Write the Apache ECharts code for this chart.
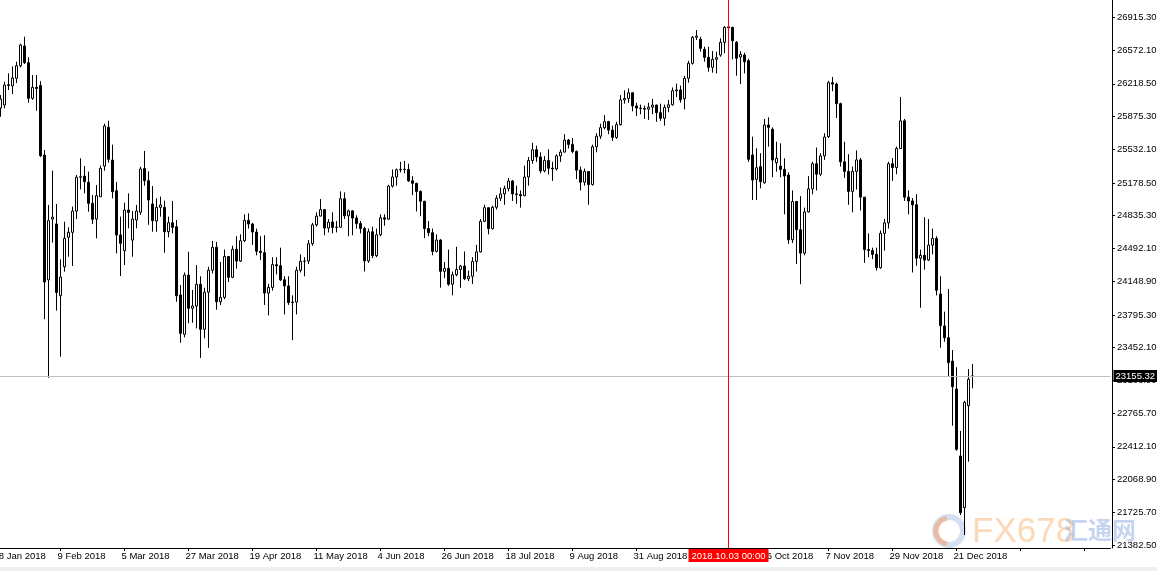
<!DOCTYPE html>
<html>
<head>
<meta charset="utf-8">
<script src="https://cdn.jsdelivr.net/npm/echarts@6/dist/echarts.min.js"></script>
<style>
html,body{margin:0;padding:0;background:#fff;}
#chart{width:1157px;height:571px;}
</style>
</head>
<body>
<div id="chart"></div>
<script>
// ---- data: daily candles [open, high, low, close] ----
const jan = [
[25990,26150,25900,26010],[25965,26100,25873,26058],[25996,26240,25961,26205],[26200,26328,26153,26210],
[26196,26400,26110,26279],[26276,26450,26226,26408],[26408,26640,26390,26625],[26614,26712,26426,26440],
[26440,26496,26020,26066],[26066,26310,26050,26181]];
const feb = [
[26181,26310,25936,26170],[26200,26247,25450,25465],[25471,25524,23750,24140],[24162,24948,23136,24784],
[24800,25307,24554,24820],[24749,24958,23840,24030],[23996,24378,23357,24192],[24300,24772,24248,24598],
[24609,24713,24405,24661],[24661,24930,24308,24884],[24884,25262,24800,25238],[25238,25437,25112,25245],
[25251,25356,25070,25192],[25185,25297,24877,24965],[24965,25052,24748,24797],[24800,25157,24598,25045],
[25034,25360,25030,25332],[25356,25800,25307,25776],[25762,25831,25391,25426],[25419,25580,25017,25087]];
const mar = [
[25097,25189,24441,24633],[24633,24825,24203,24546],[24468,24971,24318,24895],[24895,25070,24703,24870],
[24580,24884,24405,24800],[24790,24948,24703,24884],[24871,25349,24842,25325],[25330,25514,25150,25202],
[25202,25300,24740,25000],[24958,25146,24667,24783],[24780,25017,24667,24923],[24923,25035,24825,24948],
[24923,24993,24447,24667],[24667,24825,24609,24762],[24762,24990,24650,24713],[24720,24790,23933,23996],
[24004,24108,23503,23602],[23591,24240,23560,24213],[24213,24458,23707,23864],[23864,24056,23713,23888],
[23888,24318,23654,24116]];
const apr = [
[24116,24200,23344,23644],[23644,24080,23550,24033],[24033,24300,23450,24264],[24264,24570,24230,24505],
[24505,24560,23850,23933],[23933,24350,23900,23979],[23979,24480,23960,24408],[24408,24410,24140,24189],
[24189,24520,24180,24483],[24483,24620,24280,24360],[24360,24640,24350,24573],[24573,24850,24560,24786],
[24786,24860,24700,24748],[24748,24760,24530,24664],[24664,24700,24420,24463],[24463,24620,24370,24448],
[24448,24630,23900,24024],[24024,24120,23790,24083],[24083,24400,24050,24322],[24322,24400,24220,24311],
[24311,24500,24150,24163]];
const may = [
[24163,24200,23800,24099],[24099,24200,23900,23925],[23925,24000,23530,23930],[23930,24300,23800,24263],
[24263,24430,24240,24357],[24357,24400,24200,24360],[24360,24580,24330,24542],[24542,24760,24520,24739],
[24739,24870,24720,24831],[24831,25010,24830,24899],[24899,24900,24630,24706],[24706,24800,24660,24768],
[24768,24870,24650,24713],[24713,24780,24660,24715],[24715,25090,24710,25013],[25013,25080,24800,24834],
[24834,24900,24620,24886],[24886,24890,24630,24811],[24811,24840,24700,24753],[24753,24780,24650,24700],
[24700,24720,24250,24361],[24361,24700,24340,24667],[24667,24720,24390,24416]];
const jun = [
[24416,24700,24400,24635],[24635,24850,24620,24813],[24813,24850,24730,24799],[24799,25160,24790,25146],
[25146,25320,25130,25241],[25241,25330,25150,25317],[25317,25400,25290,25322],[25322,25410,25280,25320],
[25320,25380,25190,25201],[25201,25250,25050,25175],[25175,25180,24880,25090],[25090,25100,24830,24987],
[24987,24990,24600,24700],[24700,24780,24620,24657],[24657,24700,24420,24461],[24461,24640,24450,24580],
[24580,24590,24080,24252],[24252,24350,24180,24283],[24283,24480,24100,24117],[24117,24250,24000,24216],
[24216,24510,24200,24271]];
const jul = [
[24271,24320,24080,24307],[24307,24460,24160,24174],[24174,24260,24150,24200],[24200,24400,24120,24356],
[24356,24530,24250,24456],[24456,24800,24450,24776],[24776,24950,24770,24919],[24919,24920,24640,24700],
[24700,24940,24690,24924],[24924,25050,24900,25019],[25019,25130,24990,25064],[25064,25150,24950,25119],
[25119,25230,25090,25199],[25199,25210,24990,25064],[25064,25150,24960,25058],[25058,25100,24920,25044],
[25044,25360,25040,25241],[25241,25450,25150,25414],[25414,25600,25380,25527],[25527,25570,25400,25451],
[25451,25500,25280,25306],[25306,25460,25290,25415]];
const aug = [
[25415,25530,25270,25333],[25333,25400,25200,25326],[25326,25480,25310,25462],[25462,25530,25400,25502],
[25502,25690,25500,25628],[25628,25640,25540,25583],[25583,25650,25490,25509],[25509,25520,25220,25313],
[25313,25350,25100,25187],[25187,25330,25150,25299],[25299,25300,24950,25162],[25162,25580,25150,25558],
[25558,25700,25500,25669],[25669,25800,25640,25758],[25758,25890,25740,25822],[25822,25830,25690,25733],
[25733,25780,25620,25656],[25656,25820,25640,25790],[25790,26100,25780,26049],[26049,26150,26010,26064],
[26064,26170,26020,26124],[26124,26130,25930,25986],[25986,26020,25880,25964]];
const sep = [
[25964,26000,25900,25960],[25960,25990,25850,25952],[25952,26020,25840,25974],[25974,26060,25900,25995],
[25995,26000,25820,25916],[25916,26010,25830,25857],[25857,26000,25780,25971],[25971,26050,25920,25998],
[25998,26180,25990,26145],[26145,26220,26080,26154],[26154,26200,26020,26050],[26062,26300,25950,26276],
[26276,26460,26230,26433],[26433,26720,26420,26706],[26706,26782,26677,26719],[26685,26712,26555,26590],
[26580,26608,26450,26496],[26496,26607,26345,26391],[26391,26562,26335,26475],[26475,26555,26328,26492]];
const oct = [
[26520,26695,26502,26653],[26653,26824,26538,26810],[26815,26840,26740,26805],[26810,26817,26475,26670],
[26653,26667,26303,26486],[26500,26560,26216,26527],[26520,26544,26328,26450],[26460,26480,25400,25427],
[25472,25664,25000,25209],[25217,25542,25000,25338],[25349,25490,25122,25192],[25181,25850,25170,25786],
[25786,25867,25559,25762],[25741,25762,25238,25419],[25391,25611,25297,25437],[25356,25594,25238,25321],
[25321,25437,24850,25251],[25262,25290,24540,24583],[24583,25100,24550,24984],[24984,24990,24330,24688],
[24688,25040,24117,24443],[24443,24920,24420,24875],[24875,25250,24870,25116]];
const nov = [
[25116,25400,25060,25380],[25380,25550,25100,25270],[25270,25490,25250,25462],[25462,25700,25420,25660],
[25664,26250,25650,26230],[26230,26290,26140,26215],[26215,26230,25860,26010],[26010,26020,25350,25400],
[25400,25610,25230,25300],[25300,25480,24950,25090],[25090,25350,24870,25300],[25300,25520,25110,25420],
[25420,25440,24890,25030],[25030,25030,24340,24480],[24480,24650,24400,24470],[24470,24500,24380,24430],
[24430,24500,24260,24290],[24290,24680,24280,24650],[24650,24800,24470,24760],[24760,25400,24700,25380],
[25380,25440,25200,25340],[25340,25560,25270,25540]];
const dec = [
[25540,26080,25540,25830],[25830,25850,24990,25030],[25030,25100,24850,24990],[24990,25020,24240,24950],
[24950,25060,24310,24390],[24390,24480,23870,24420],[24420,24820,24270,24370],[24370,24800,24360,24527],
[24527,24700,24430,24597],[24597,24620,24000,24054],[24014,24200,23451,23682],[23679,23829,23514,23556],
[23556,24067,23154,23294],[23311,23427,22633,23042],[23018,23246,22371,22386],[22316,22578,21697,21722],
[21774,22895,21487,22878],[22843,23228,22256,23120],[23150,23280,23025,23155.32]];

// ---- axis values ----
const yTickValues = [26915.30,26572.10,26218.50,25875.30,25532.10,25178.50,24835.30,24492.10,24148.90,
  23795.30,23452.10,23108.90,22765.70,22412.10,22068.90,21725.70,21382.50];
const yMin = 21351, yMax = 27097;
const firstDay = '2018-01-18', lastDay = '2018-12-28';
const closedDays = ['2018-03-30','2018-12-25'];
const monthNames = ['Jan','Feb','Mar','Apr','May','Jun','Jul','Aug','Sep','Oct','Nov','Dec'];
const crosshairDate = '2018-10-03';
const crosshairText = '2018.10.03 00:00';
const lastPrice = 23155.32;
const totalSlots = 279; // bars + empty right margin

// trading calendar (weekdays minus closed days)
function tradingDays(a, b) {
  const out = [];
  const d = new Date(a + 'T00:00:00Z'), e = new Date(b + 'T00:00:00Z');
  while (d <= e) {
    const wd = d.getUTCDay();
    const s = d.toISOString().slice(0, 10);
    if (wd !== 0 && wd !== 6 && closedDays.indexOf(s) < 0) out.push(s);
    d.setUTCDate(d.getUTCDate() + 1);
  }
  return out;
}
const dates = tradingDays(firstDay, lastDay);
const rows = [].concat(jan, feb, mar, apr, may, jun, jul, aug, sep, oct, nov, dec);
if (rows.length !== dates.length) console.warn('length mismatch', rows.length, dates.length);
const candleData = rows.map(r => [r[0], r[3], r[2], r[1]]); // [open, close, low, high]
const categories = dates.slice();
for (let i = categories.length; i < totalSlots; i++) categories.push('pad' + i);

function fmtDate(v) {
  if (!/^\d{4}-\d{2}-\d{2}$/.test(v)) return '';
  const p = v.split('-');
  return (+p[2]) + ' ' + monthNames[+p[1] - 1] + ' ' + p[0];
}

const FONT = '"Liberation Sans", Arial, sans-serif';
const chart = echarts.init(document.getElementById('chart'), null, {renderer: 'canvas'});
chart.setOption({
  backgroundColor: '#ffffff',
  animation: false,
  grid: {left: -5.5, right: 46.5, top: 0, bottom: 23, containLabel: false, outerBoundsMode: 'none'},
  xAxis: {
    type: 'category',
    data: categories,
    boundaryGap: true,
    axisPointer: {show: false},
    axisLine: {show: true, lineStyle: {color: '#000', width: 1}},
    axisTick: {show: true, interval: 15, alignWithLabel: true, length: 3, lineStyle: {color: '#000'}},
    axisLabel: {show: true, interval: 15, align: 'left', margin: 3, color: '#000', fontSize: 9.5,
      padding: [0, 0, 0, -3], fontFamily: FONT, formatter: fmtDate},
    splitLine: {show: false}
  },
  yAxis: {
    type: 'value',
    position: 'right',
    offset: 1.5,
    min: yMin, max: yMax,
    scale: true,
    axisPointer: {show: false},
    axisLine: {show: true, lineStyle: {color: '#000', width: 1}},
    axisTick: {show: true, length: 3, lineStyle: {color: '#000'}, customValues: yTickValues},
    axisLabel: {show: true, margin: 5, color: '#000', fontSize: 9.5, fontFamily: FONT,
      customValues: yTickValues, formatter: v => v.toFixed(2)},
    splitLine: {show: false}
  },
  graphic: [
    {type: 'rect', left: 0, top: 567, shape: {width: 1157, height: 4}, style: {fill: '#f0f0f0'}, z: -10, silent: true},
    {type: 'ring', shape: {cx: 949, cy: 531, r: 17, r0: 11}, style: {fill: 'rgba(160,185,225,0.45)'}, z: -10, silent: true},
    {type: 'arc', shape: {cx: 949, cy: 531, r: 13, startAngle: Math.PI * 0.55, endAngle: Math.PI * 1.45, clockwise: true},
      style: {stroke: 'rgba(245,165,110,0.6)', lineWidth: 5, fill: null}, z: -9, silent: true},
    {type: 'text', left: 972, top: 515, z: -10, silent: true,
      style: {text: 'FX678', font: '35px ' + FONT, fill: 'rgba(248,190,135,0.6)'}},
    {type: 'text', left: 1064, top: 518, z: -10, silent: true,
      style: {text: '汇通网', font: 'bold 24px "Noto Sans CJK SC"', fill: 'rgba(140,170,225,0.5)'}}
  ],
  series: [{
    type: 'candlestick',
    data: candleData,
    barWidth: 3,
    clip: false,
    silent: true,
    itemStyle: {color: '#ffffff', color0: '#000000', borderColor: '#000000', borderColor0: '#000000',
      borderColorDoji: '#000000', borderWidth: 1},
    markLine: {
      silent: true,
      symbol: ['none', 'none'],
      animation: false,
      data: [
        {yAxis: lastPrice,
          lineStyle: {color: '#c0c0c0', width: 1, type: 'solid', opacity: 1},
          label: {show: true, position: 'end', distance: 3, formatter: lastPrice.toFixed(2), color: '#fff',
            backgroundColor: '#000', padding: [1, 2, 1, 2], fontSize: 9.5, fontFamily: FONT}}
      ]
    }
  }, {
    type: 'line',
    name: 'crosshair',
    data: [[crosshairDate, yMax], [crosshairDate, yMin]],
    symbol: 'none',
    showSymbol: false,
    silent: true,
    clip: false,
    z: 5,
    itemStyle: {color: '#ff0000'},
    lineStyle: {color: '#ff0000', width: 1, type: 'solid', opacity: 1},
    endLabel: {
      show: true, formatter: crosshairText, distance: 0, offset: [0, 1],
      align: 'center', verticalAlign: 'top', color: '#fff', backgroundColor: '#ff0000',
      padding: [2, 3, 1, 3], fontSize: 9.5, fontFamily: FONT
    }
  }]
});
</script>
</body>
</html>
